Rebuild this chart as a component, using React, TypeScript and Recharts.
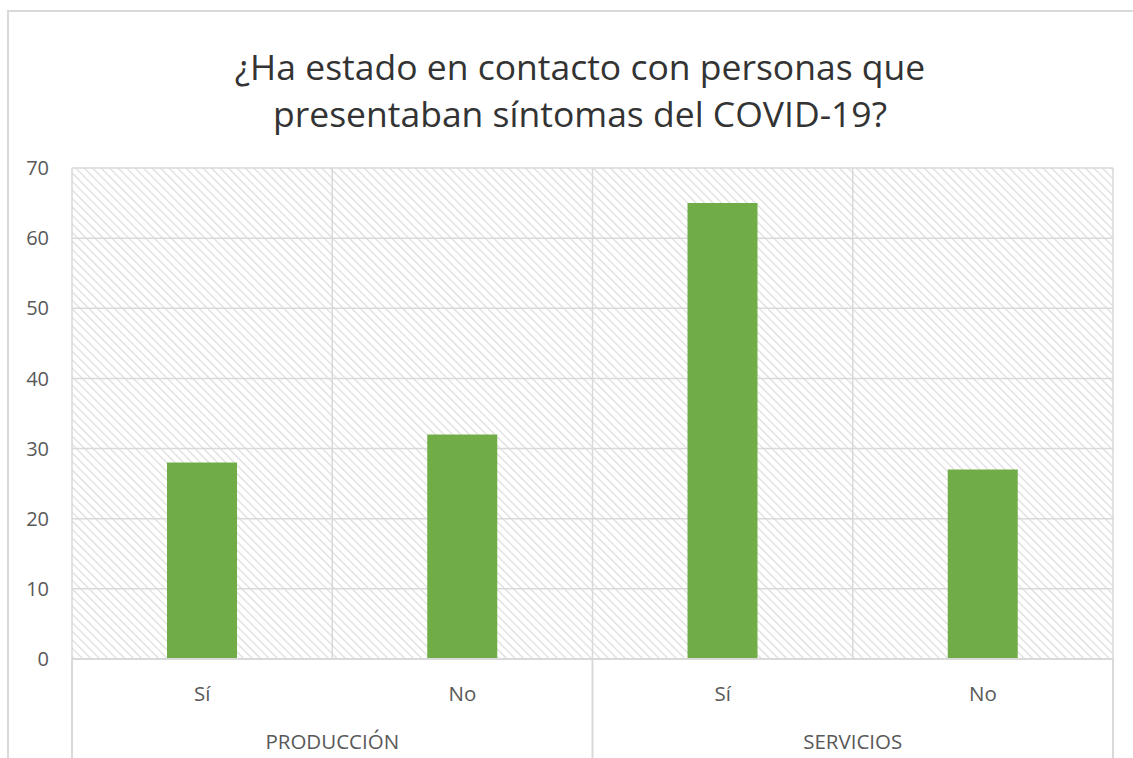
import React from 'react';
import { BarChart, Bar, XAxis, YAxis, CartesianGrid } from 'recharts';

const titleLines = ['¿Ha estado en contacto con personas que', 'presentaban síntomas del COVID-19?'];
const answers = ['Sí', 'No', 'Sí', 'No'];
const groups = ['PRODUCCIÓN', 'PRODUCCIÓN', 'SERVICIOS', 'SERVICIOS'];
const counts = [28, 32, 65, 27];
const yTicks = [0, 10, 20, 30, 40, 50, 60, 70];

const data = answers.map((answer, i) => ({
  answer,
  group: groups[i],
  count: counts[i],
}));

const CHART_W = 1133;
const CHART_H = 758;
const MARGIN = { top: 168, right: 20, left: 0, bottom: 0 };
const Y_AXIS_W = 72;
const X_AXIS_1_H = 55;
const X_AXIS_2_H = 44;
const FONT = '"Open Sans", sans-serif';
const TEXT = '#595959';
const GRID = '#d9d9d9';

const plotWidth = CHART_W - MARGIN.left - MARGIN.right - Y_AXIS_W;
const band = plotWidth / data.length;

// second level of the category axis: group name centred under its answers,
// with separators between groups
const GroupTick = (props: any) => {
  const { x, y, index } = props;
  const top = y - X_AXIS_1_H;
  const bottom = y + X_AXIS_2_H;
  const isFirst = index === 0 || groups[index] !== groups[index - 1];
  const isLast = index === data.length - 1;
  let span = 1;
  while (isFirst && groups[index + span] === groups[index]) span++;
  return (
    <g>
      {isFirst && (
        <line x1={x - band / 2} x2={x - band / 2} y1={top} y2={bottom} stroke={GRID} strokeWidth={2} />
      )}
      {isLast && (
        <line x1={x + band / 2} x2={x + band / 2} y1={top} y2={bottom} stroke={GRID} strokeWidth={2} />
      )}
      {isFirst && (
        <text
          x={x + ((span - 1) * band) / 2}
          y={y + 35}
          textAnchor="middle"
          fill={TEXT}
          fontSize={20.5}
          fontFamily={FONT}
        >
          {props.payload.value}
        </text>
      )}
    </g>
  );
};

export default function App() {
  return (
    <div
      style={{
        position: 'absolute',
        left: 0,
        top: 0,
        width: CHART_W,
        height: CHART_H,
        background: '#fff',
        overflow: 'hidden',
      }}
    >
      <svg width={0} height={0} style={{ position: 'absolute' }}>
        <defs>
          <pattern id="hatch" width={6} height={6} patternUnits="userSpaceOnUse" patternTransform="rotate(-45)">
            <rect width={6} height={6} fill="#fff" />
            <line x1={0} y1={0} x2={0} y2={6} stroke="#dcdcdc" strokeWidth={2.5} />
          </pattern>
        </defs>
      </svg>
      <div
        style={{
          position: 'absolute',
          left: 7,
          top: 10,
          width: CHART_W,
          height: CHART_H,
          borderLeft: `2px solid ${GRID}`,
          borderTop: `2px solid ${GRID}`,
        }}
      />
      {titleLines.map((line, i) => (
        <div
          key={i}
          style={{
            position: 'absolute',
            left: 0,
            width: 1160,
            top: 45 + i * 47,
            height: 42,
            textAlign: 'center',
            fontFamily: FONT,
            fontSize: 35.5,
            lineHeight: '42px',
            color: '#333333',
            whiteSpace: 'nowrap',
          }}
        >
          {line}
        </div>
      ))}
      <div style={{ position: 'absolute', left: 0, top: 0 }}>
        <BarChart width={CHART_W} height={CHART_H} data={data} margin={MARGIN}>
          <CartesianGrid
            fill="url(#hatch)"
            fillOpacity={1}
            stroke={GRID}
            strokeWidth={1.5}
            verticalCoordinatesGenerator={({ offset }: any) =>
              data.map((_, i) => offset.left + i * (offset.width / data.length)).concat(offset.left + offset.width)
            }
          />
          <XAxis
            dataKey="answer"
            xAxisId={0}
            interval={0}
            height={X_AXIS_1_H}
            axisLine={{ stroke: GRID, strokeWidth: 2 }}
            tickLine={false}
            tickSize={0}
            tickMargin={27}
            tick={{ fill: TEXT, fontSize: 20.5, fontFamily: FONT }}
          />
          <XAxis
            dataKey="group"
            xAxisId="group"
            interval={0}
            height={X_AXIS_2_H}
            axisLine={false}
            tickLine={false}
            tickSize={0}
            tickMargin={0}
            tick={<GroupTick />}
          />
          <YAxis
            width={Y_AXIS_W}
            domain={[0, 70]}
            ticks={yTicks}
            axisLine={false}
            tickLine={false}
            tickSize={0}
            tickMargin={23}
            tick={{ fill: TEXT, fontSize: 20, fontFamily: FONT }}
          />
          <Bar dataKey="count" xAxisId={0} fill="#70ad47" barSize={70} isAnimationActive={false} />
        </BarChart>
      </div>
    </div>
  );
}
